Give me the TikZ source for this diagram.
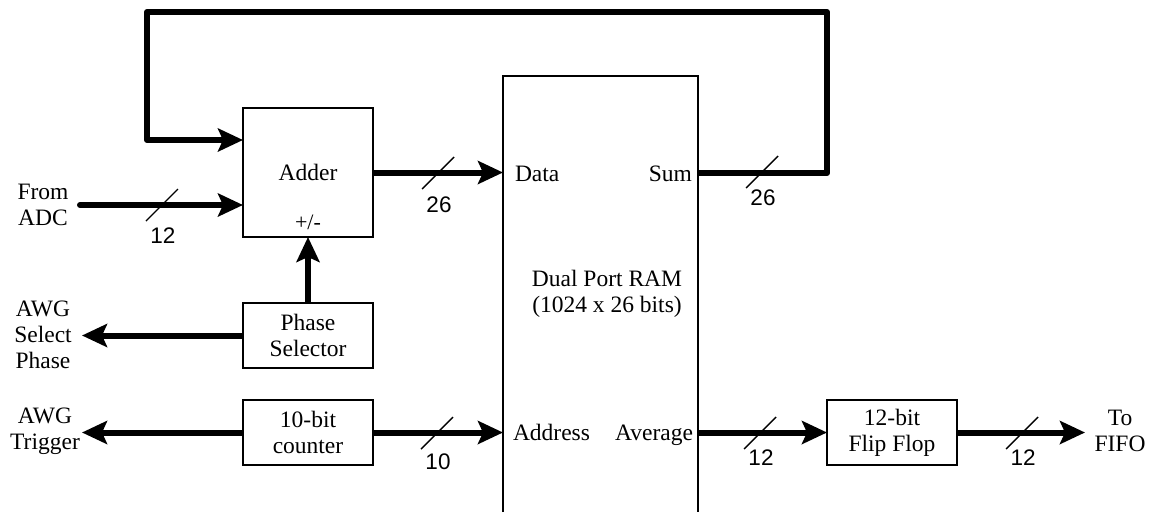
\documentclass[tikz,border=0pt]{standalone}
\usepackage{fontspec}
\setmainfont{Liberation Serif}
\newfontfamily\numfont{Liberation Sans}
\usetikzlibrary{arrows.meta,calc}
\begin{document}
\begin{tikzpicture}[x=1pt,y=-1pt,
  every node/.style={font=\fontsize{23.5}{26}\selectfont, inner sep=0pt, outer sep=0pt},
  blockbox/.style={draw, line width=2pt, minimum width=130pt, align=center},
  bus/.style={line width=6pt, line join=round},
  busarrow/.style={bus, -{Stealth[length=25pt,width=23pt,inset=5pt]}},
  slashline/.style={line width=1.4pt},
  numlab/.style={font=\fontsize{22.5}{25}\selectfont\numfont},
  plainlab/.style={align=center}]
\useasboundingbox (0,0) rectangle (1153,512);

% blocks
\node[blockbox, minimum height=129pt] (adder) at (308,172.5) {};
\node[anchor=base] (addertxt) at (308,180) {Adder};
\node[anchor=base, font=\fontsize{22}{24}\selectfont] (pm) at (308,229) {+/-};
\node[blockbox, minimum height=65pt] (ps) at (308,335.5) {Phase\\Selector};
\node[blockbox, minimum height=65pt] (cnt) at (308,432.5) {10-bit\\counter};
\node[blockbox, minimum height=65pt] (ff) at (892,432.5) {12-bit\\Flip Flop};

% RAM (extends past the bottom)
\node[minimum width=195pt, minimum height=436pt] (ram) at (600.5,294) {};
\draw[line width=2pt] (ram.south west) |- (ram.north east) -- (ram.south east);
\node[anchor=base west] (data) at (515,181) {Data};
\node[anchor=base east] (sum) at (692,181) {Sum};
\node[anchor=base west] (addr) at (513,440) {Address};
\node[anchor=base east] (avg) at (693,440) {Average};
\node[plainlab] (ramtxt) at (607,294) {Dual Port RAM\\(1024 x 26 bits)};

% external labels
\node[plainlab] (adc) at (43,204.5) {From\\ADC};
\node[plainlab] (awgsel) at (43,335) {AWG\\Select\\Phase};
\node[plainlab] (awgtrig) at (45,431) {AWG\\Trigger};
\node[plainlab] (fifo) at (1120,431) {To\\FIFO};

% coordinates
\coordinate (adcin) at (80,205);
\coordinate (loopR) at (827,12);
\coordinate (loopL) at (147,12);
\coordinate (fbin) at (147,140);
\coordinate (seltip) at (82,335.5);
\coordinate (trigtip) at (82,432.5);
\coordinate (fifotip) at (1085,432.5);
\coordinate (sumout) at (698,173);

% connectors
\draw[busarrow, line cap=round] (adcin) -- (adcin -| adder.west);
\draw[busarrow] (sumout) -| (loopR) -- (loopL) -- (fbin) -- (fbin -| adder.west);
\draw[busarrow] (adder.east) -- (adder.east -| ram.west);
\draw[busarrow] (ps.north) -- (adder.south);
\draw[busarrow] (ps.west) -- (seltip);
\draw[busarrow] (cnt.west) -- (trigtip);
\draw[busarrow] (cnt.east) -- (cnt.east -| ram.west);
\draw[busarrow] (cnt.east -| ram.east) -- (ff.west);
\draw[busarrow] (ff.east) -- (fifotip);

% bus width marks
\newcommand\busmark[4]{%
  \coordinate (#1) at (#2);
  \draw[slashline] ($(#1)+(-16,16)$) -- ($(#1)+(16,-16)$);
  \node[numlab] at ($(#1)+(1,#3)$) {#4};}
\busmark{m1}{162,205}{31}{12}
\busmark{m2}{438,173}{32}{26}
\busmark{m3}{762,172}{26}{26}
\busmark{m4}{437,433}{29}{10}
\busmark{m5}{760,433}{25}{12}
\busmark{m6}{1022,433}{25}{12}
\end{tikzpicture}
\end{document}
